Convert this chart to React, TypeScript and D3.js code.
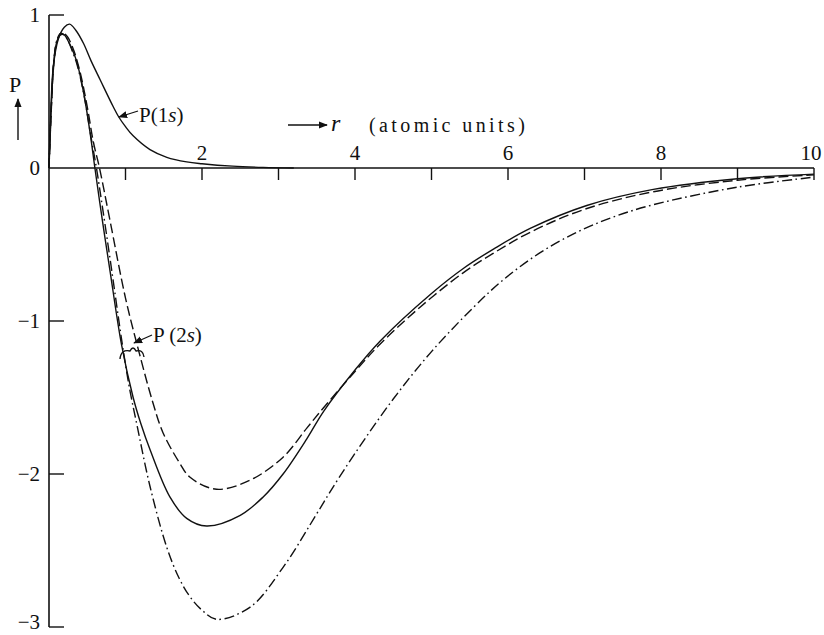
import React, { useRef, useEffect } from 'react';
import * as d3 from 'd3';

// radial functions: [r, P]
const p1s = [
  [0, 0], [0.02, 0.32], [0.056, 0.66], [0.12, 0.84], [0.2, 0.92], [0.27, 0.94],
  [0.35, 0.9], [0.45, 0.815], [0.55, 0.7], [0.67, 0.575], [0.84, 0.4], [0.91, 0.335],
  [1.0, 0.27], [1.1, 0.21], [1.32, 0.12], [1.54, 0.07], [1.8, 0.04], [2.0, 0.028],
  [2.4, 0.012], [2.8, 0.004], [3.2, 0],
];
const p2sSolid = [
  [0, 0], [0.03, 0.4], [0.06, 0.68], [0.1, 0.82], [0.15, 0.87], [0.2, 0.87],
  [0.25, 0.83], [0.3, 0.78], [0.36, 0.7], [0.45, 0.5], [0.54, 0.22], [0.6, 0],
  [0.7, -0.35], [0.8, -0.68], [0.95, -1.16], [1.1, -1.5], [1.2, -1.67], [1.32, -1.84],
  [1.58, -2.15], [1.8, -2.29], [2.06, -2.34], [2.5, -2.27], [2.8, -2.15], [3.06, -2.0],
  [3.37, -1.77], [3.59, -1.59], [4.0, -1.32], [4.33, -1.13], [5.0, -0.82], [5.42, -0.655],
  [5.81, -0.53], [6.29, -0.395], [7.03, -0.245], [7.9, -0.14], [9.0, -0.07], [10, -0.04],
];
const p2sDashed = [
  [0, 0], [0.03, 0.38], [0.06, 0.66], [0.1, 0.82], [0.16, 0.88], [0.22, 0.87],
  [0.3, 0.8], [0.4, 0.64], [0.5, 0.4], [0.58, 0.17], [0.66, 0], [0.8, -0.35],
  [1.0, -0.85], [1.17, -1.19], [1.35, -1.52], [1.49, -1.73], [1.71, -1.93], [1.84, -2.02],
  [2.19, -2.1], [2.63, -2.04], [3.06, -1.89], [3.37, -1.7], [3.6, -1.56], [4.0, -1.33],
  [4.33, -1.15], [4.85, -0.91], [5.4, -0.69], [5.8, -0.56], [6.29, -0.42], [7.0, -0.27],
  [7.9, -0.155], [9.0, -0.08], [10, -0.045],
];
const p2sDashDot = [
  [0, 0], [0.03, 0.4], [0.06, 0.68], [0.1, 0.83], [0.15, 0.88], [0.2, 0.87],
  [0.25, 0.83], [0.3, 0.77], [0.37, 0.67], [0.46, 0.47], [0.55, 0.2], [0.62, 0],
  [0.7, -0.26], [0.8, -0.6], [0.97, -1.19], [1.06, -1.46], [1.15, -1.68], [1.32, -2.08],
  [1.54, -2.48], [1.7, -2.68], [1.84, -2.8], [2.0, -2.89], [2.19, -2.95], [2.63, -2.87],
  [3.06, -2.61], [3.5, -2.26], [3.67, -2.12], [3.98, -1.88], [4.5, -1.51], [5.0, -1.2],
  [5.55, -0.91], [5.94, -0.73], [6.4, -0.56], [6.9, -0.42], [7.38, -0.32], [7.9, -0.24],
  [9.0, -0.125], [10, -0.06],
];

const rTicks = [1, 2, 3, 4, 5, 6, 7, 8, 9, 10];
const rLabels = [2, 4, 6, 8, 10];
const pTicks = [1, -1, -2, -3];
const pLabels = ['1', '0', '−1', '−2', '−3'];
const pLabelValues = [1, 0, -1, -2, -3];

const W = 824;
const H = 635;
const FONT = '"Liberation Serif", "DejaVu Serif", serif';
const INK = '#111';

const App = () => {
  const svgRef = useRef(null);

  useEffect(() => {
    const svg = d3.select(svgRef.current);
    svg.selectAll('*').remove();

    const x = d3.scaleLinear().domain([0, 10]).range([49, 814]);
    const y = d3.scaleLinear().domain([-3, 1]).range([627, 15]);

    const defs = svg.append('defs');
    defs
      .append('marker')
      .attr('id', 'head')
      .attr('viewBox', '0 0 10 10')
      .attr('refX', 9)
      .attr('refY', 5)
      .attr('markerWidth', 9)
      .attr('markerHeight', 9)
      .attr('markerUnits', 'userSpaceOnUse')
      .attr('orient', 'auto')
      .append('path')
      .attr('d', 'M0,1 L10,5 L0,9 Z')
      .attr('fill', INK);

    // axes
    svg.append('line')
      .attr('x1', x(0)).attr('x2', x(0))
      .attr('y1', y(1)).attr('y2', y(-3))
      .attr('stroke', INK).attr('stroke-width', 1.6);
    svg.append('line')
      .attr('x1', x(0)).attr('x2', x(10))
      .attr('y1', y(0)).attr('y2', y(0))
      .attr('stroke', INK).attr('stroke-width', 1.6);

    svg.selectAll('.rtick')
      .data(rTicks)
      .enter()
      .append('line')
      .attr('x1', d => x(d)).attr('x2', d => x(d))
      .attr('y1', y(0)).attr('y2', y(0) + 12)
      .attr('stroke', INK).attr('stroke-width', 1.4);

    svg.selectAll('.rlabel')
      .data(rLabels)
      .enter()
      .append('text')
      .text(d => d)
      .attr('x', d => (d === 10 ? x(d) - 3 : x(d)))
      .attr('y', y(0) - 8)
      .attr('text-anchor', 'middle')
      .attr('font-family', FONT)
      .attr('font-size', 21)
      .attr('fill', INK);

    svg.selectAll('.ptick')
      .data(pTicks)
      .enter()
      .append('line')
      .attr('x1', x(0)).attr('x2', x(0) + 15)
      .attr('y1', d => y(d)).attr('y2', d => y(d))
      .attr('stroke', INK).attr('stroke-width', 1.4);

    svg.selectAll('.plabel')
      .data(pLabelValues)
      .enter()
      .append('text')
      .text((d, i) => pLabels[i])
      .attr('x', 40)
      .attr('y', d => (d === -3 ? 629 : y(d) + 7))
      .attr('text-anchor', 'end')
      .attr('font-family', FONT)
      .attr('font-size', 21)
      .attr('fill', INK);

    // curves
    const line = d3.line()
      .x(d => x(d[0]))
      .y(d => y(d[1]))
      .curve(d3.curveCatmullRom.alpha(0.5));

    const curves = [
      { data: p1s, dash: null },
      { data: p2sSolid, dash: null },
      { data: p2sDashed, dash: '10,4' },
      { data: p2sDashDot, dash: '10,3.5,1.6,3.5' },
    ];
    svg.selectAll('.curve')
      .data(curves)
      .enter()
      .append('path')
      .attr('d', d => line(d.data))
      .attr('fill', 'none')
      .attr('stroke', INK)
      .attr('stroke-width', 1.4)
      .attr('stroke-dasharray', d => d.dash);

    // P axis label with up arrow
    svg.append('text')
      .text('P')
      .attr('x', 15).attr('y', 92)
      .attr('text-anchor', 'middle')
      .attr('font-family', FONT).attr('font-size', 22).attr('fill', INK);
    svg.append('line')
      .attr('x1', 18).attr('x2', 18).attr('y1', 140).attr('y2', 99)
      .attr('stroke', INK).attr('stroke-width', 1.4)
      .attr('marker-end', 'url(#head)');

    // r axis label
    svg.append('line')
      .attr('x1', 288).attr('x2', 327).attr('y1', 125).attr('y2', 125)
      .attr('stroke', INK).attr('stroke-width', 1.3)
      .attr('marker-end', 'url(#head)');
    svg.append('text')
      .text('r')
      .attr('x', 331).attr('y', 131)
      .attr('font-family', FONT).attr('font-style', 'italic')
      .attr('font-size', 24).attr('fill', INK);
    svg.append('text')
      .text('(atomic units)')
      .attr('x', 369).attr('y', 132)
      .attr('font-family', FONT).attr('font-size', 20)
      .attr('letter-spacing', 3.4).attr('fill', INK);

    // P(1s) label
    svg.append('line')
      .attr('x1', 138).attr('x2', 119).attr('y1', 111).attr('y2', 117)
      .attr('stroke', INK).attr('stroke-width', 1.2)
      .attr('marker-end', 'url(#head)');
    const t1 = svg.append('text')
      .attr('x', 139).attr('y', 122)
      .attr('font-family', FONT).attr('font-size', 21).attr('fill', INK);
    t1.append('tspan').text('P(1');
    t1.append('tspan').attr('font-style', 'italic').text('s');
    t1.append('tspan').text(')');

    // P(2s) label
    svg.append('line')
      .attr('x1', 152).attr('x2', 134).attr('y1', 335).attr('y2', 343)
      .attr('stroke', INK).attr('stroke-width', 1.2)
      .attr('marker-end', 'url(#head)');
    svg.append('path')
      .attr('d', 'M120,359 Q121,349 130,351 Q133,345 136,351 Q143,349 144,357')
      .attr('fill', 'none').attr('stroke', INK).attr('stroke-width', 1.4);
    const t2 = svg.append('text')
      .attr('x', 153).attr('y', 342)
      .attr('font-family', FONT).attr('font-size', 21).attr('fill', INK);
    t2.append('tspan').text('P (2');
    t2.append('tspan').attr('font-style', 'italic').text('s');
    t2.append('tspan').text(')');
  }, []);

  return (
    <svg
      ref={svgRef}
      width={W}
      height={H}
      style={{ position: 'absolute', left: 0, top: 0, background: '#fff' }}
    ></svg>
  );
};

export default App;
